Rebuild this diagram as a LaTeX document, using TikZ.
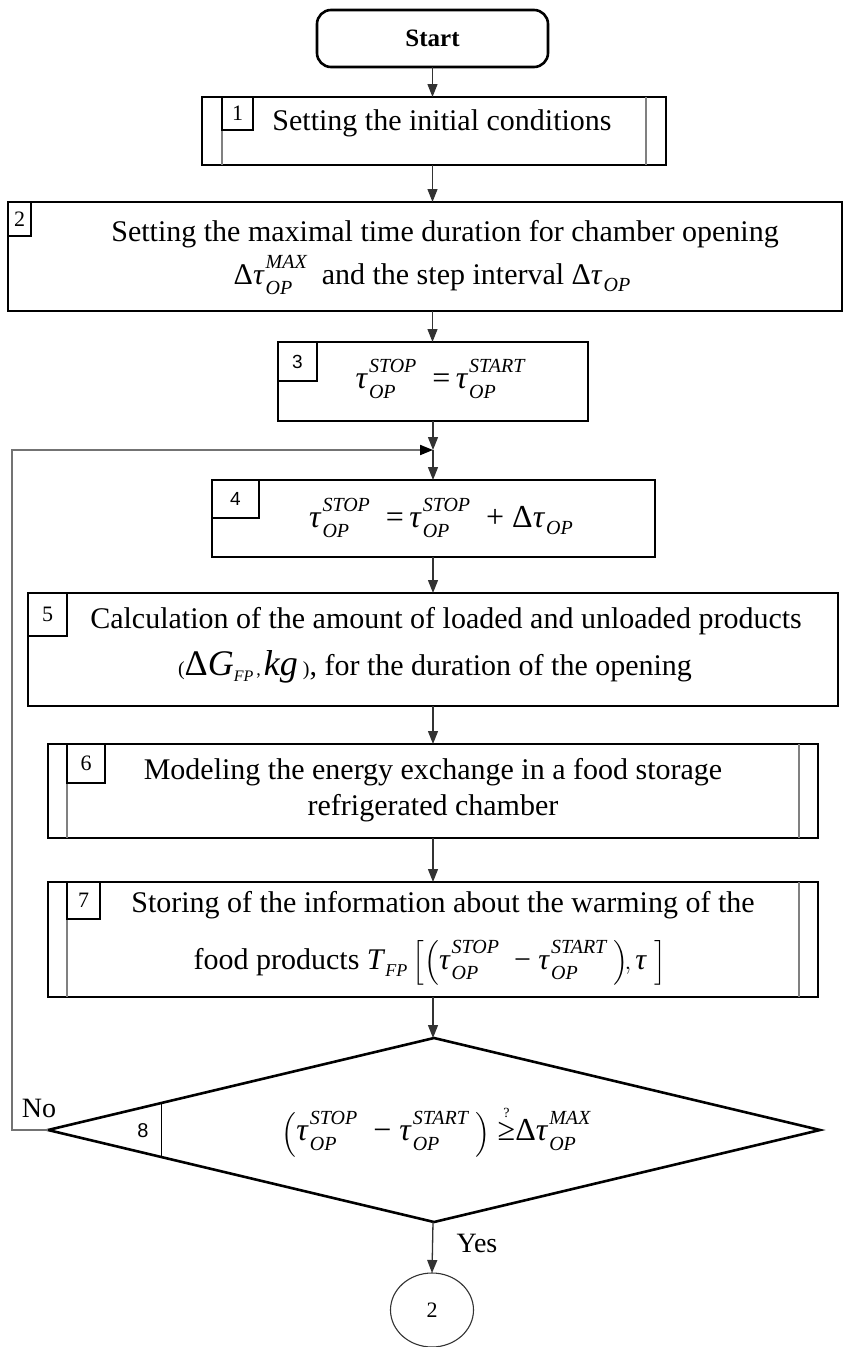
\documentclass[tikz,border=0pt]{standalone}
\usepackage{fontspec}
\usepackage{amsmath}
\setmainfont{Liberation Serif}
\newfontfamily\arialf{Liberation Sans}
\usetikzlibrary{shapes.geometric,arrows.meta,calc}
\newcommand{\myit}[1]{\text{\itshape #1}}
\newcommand{\supsub}[2]{{\fontsize{20}{26}\selectfont\itshape\begin{tabular}[c]{@{}l@{}}#1\\#2\end{tabular}}}
\newcommand{\tauX}[1]{\mbox{\textit{τ}\kern1pt\raisebox{3pt}{\supsub{#1}{OP}}}}
\newcommand{\tauO}{\mbox{\textit{τ}\kern1pt\raisebox{-7.7pt}{\fontsize{20}{20}\selectfont\itshape OP}}}
\begin{document}
\begin{tikzpicture}[x=1pt,y=-1pt,
  box/.style={draw=black, line width=2.6pt, rectangle, inner sep=0pt, outer sep=0pt},
  startbox/.style={box, rounded corners=14pt},
  numbox/.style={draw=black, line width=1.1pt, rectangle, inner sep=0pt, outer sep=0pt, font=\fontsize{22}{24}\selectfont},
  numsans/.style={numbox, font=\arialf\fontsize{19}{22}\selectfont},
  innerl/.style={draw=black!50, line width=2pt},
  txt/.style={inner sep=0pt, font=\fontsize{30}{36}\selectfont},
  frm/.style={inner sep=0pt, font=\fontsize{32}{38}\selectfont},
  lbl/.style={inner sep=0pt, font=\fontsize{28}{32}\selectfont},
  arr/.style={draw=black!80, line width=1.3pt, -{Triangle[length=13pt,width=10pt]}},
  loopl/.style={draw=black!55, line width=2pt, -{Triangle[length=13pt,width=10pt,fill=black,color=black]}},
  dia/.style={draw=black, line width=2.6pt, diamond, inner sep=0pt, outer sep=0pt, minimum width=772pt, minimum height=184pt},
  conn/.style={draw=black!80, line width=1.1pt, ellipse, inner sep=0pt, outer sep=0pt, minimum width=83pt, minimum height=74pt, font=\fontsize{22}{24}\selectfont}
]
\useasboundingbox (0,0) rectangle (846,1347);
\fill[white] (0,0) rectangle (846,1347);

% Start
\node[startbox, minimum width=231pt, minimum height=57pt, font=\bfseries\fontsize{25}{30}\selectfont] (start) at (432.5,38.5) {Start};

% Box 1
\node[box, minimum width=464pt, minimum height=68pt] (b1) at (434,131) {};
\draw[innerl] ($(b1.north west)+(20,0)$) -- ($(b1.south west)+(20,0)$);
\draw[innerl] ($(b1.north east)+(-20,0)$) -- ($(b1.south east)+(-20,0)$);
\node[numbox, minimum width=31pt, minimum height=33pt, anchor=north west] (n1) at ($(b1.north west)+(20,0)$) {1};
\node[txt] (t1) at (442,123) {Setting the initial conditions};

% Box 2
\node[box, minimum width=834pt, minimum height=109pt] (b2) at (425,256.5) {};
\node[numbox, minimum width=23pt, minimum height=34pt, anchor=north west] (n2) at (b2.north west) {2};
\node[txt] (t2a) at (445,234) {Setting the maximal time duration for chamber opening};
\node[txt] (t2b) at (432,276) {Δ\tauX{MAX}\ \ and the step interval Δ\tauO};

% Box 3
\node[box, minimum width=310pt, minimum height=79pt] (b3) at (433,381.5) {};
\node[numsans, minimum width=39pt, minimum height=39pt, anchor=north west] (n3) at (b3.north west) {3};
\node[frm] (t3) at (440,380) {\tauX{STOP}\ \ =\,\tauX{START}};

% junction
\coordinate (j) at (433,450);

% Box 4
\node[box, minimum width=443pt, minimum height=77pt] (b4) at (433.5,518.5) {};
\node[numsans, minimum width=47pt, minimum height=38pt, anchor=north west] (n4) at (b4.north west) {4};
\node[frm] (t4) at (441,519) {\tauX{STOP}\ \ =\,\tauX{STOP}\ \ + Δ\tauO};

% Box 5
\node[box, minimum width=810pt, minimum height=113pt] (b5) at (433,649.5) {};
\node[numbox, minimum width=39pt, minimum height=43pt, anchor=north west] (n5) at (b5.north west) {5};
\node[txt] (t5a) at (446,621) {Calculation of the amount of loaded and unloaded products};
\node[txt] (t5b) at (435,667) {{\fontsize{20}{22}\selectfont(}{\fontsize{36}{40}\selectfont Δ\textit{G}}\raisebox{-6pt}{\fontsize{16}{16}\selectfont\itshape FP}{\fontsize{18}{20}\selectfont\,,\,}{\fontsize{36}{40}\selectfont\textit{kg}}\,{\fontsize{20}{22}\selectfont)}, for the duration of the opening};

% Box 6
\node[box, minimum width=770pt, minimum height=94pt] (b6) at (433,791) {};
\draw[innerl] ($(b6.north west)+(19,0)$) -- ($(b6.south west)+(19,0)$);
\draw[innerl] ($(b6.north east)+(-19,0)$) -- ($(b6.south east)+(-19,0)$);
\node[numbox, minimum width=38pt, minimum height=39pt, anchor=north west] (n6) at ($(b6.north west)+(19,0)$) {6};
\node[txt] (t6a) at (433,772) {Modeling the energy exchange in a food storage};
\node[txt] (t6b) at (433,808) {refrigerated chamber};

% Box 7
\node[box, minimum width=770pt, minimum height=115pt] (b7) at (433,939.5) {};
\draw[innerl] ($(b7.north west)+(19,0)$) -- ($(b7.south west)+(19,0)$);
\draw[innerl] ($(b7.north east)+(-19,0)$) -- ($(b7.south east)+(-19,0)$);
\node[numbox, minimum width=33pt, minimum height=37pt, anchor=north west] (n7) at ($(b7.north west)+(19,0)$) {7};
\node[txt] (t7a) at (443,905) {Storing of the information about the warming of the};
\node[txt] (t7b) at (430,961) {food products \textit{T}\raisebox{-7pt}{\fontsize{18}{18}\selectfont\itshape FP}\,$\Bigl[\Bigl(\mbox{\tauX{STOP}\ \ − \tauX{START}}\ \Bigr)\!,\mbox{\textit{τ}}\ \Bigr]$};

% Diamond
\node[dia] (d8) at (434,1130) {};
\draw[line width=1.1pt] ($(d8.west)!0.295!(d8.north)$) -- ($(d8.west)!0.295!(d8.south)$);
\node[inner sep=0pt, font=\arialf\fontsize{20}{22}\selectfont] (n8) at (143,1131) {8};
\node[frm] (t8) at (436,1132) {$\Bigl(\mbox{\tauX{STOP}\ \ − \tauX{START}}\ \Bigr)\mkern5mu\overset{\text{\fontsize{14}{14}\selectfont ?}}{\text{≥}}\mbox{Δ\tauX{MAX}}$};

% Connector circle
\node[conn] (c2) at (432,1310) {2};

% Labels
\node[lbl] (no) at (39,1108) {No};
\node[lbl] (yes) at (477,1243) {Yes};

% Arrows
\draw[arr] (start.south) -- (start.south |- b1.north);
\draw[arr] (b1.south -| start.south) -- (start.south |- b2.north);
\draw[arr] (b2.south -| start.south) -- (start.south |- b3.north);
\draw[arr] (b3.south -| j) -- (j);
\draw[arr] (j) -- (j |- b4.north);
\draw[arr] (b4.south -| j) -- (j |- b5.north);
\draw[arr] (b5.south -| j) -- (j |- b6.north);
\draw[arr] (b6.south -| j) -- (j |- b7.north);
\draw[arr] (b7.south -| j) -- (j |- d8.north);
\draw[arr] (d8.south -| j) -- (c2.north);
\draw[loopl] (d8.west) -- ++(-36,0) |- (j);
\end{tikzpicture}
\end{document}
